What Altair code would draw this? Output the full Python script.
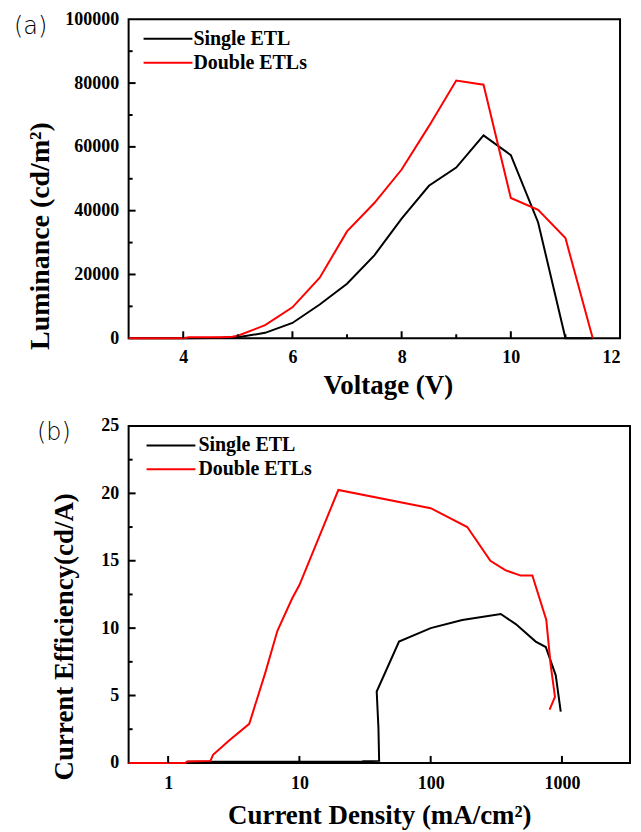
import altair as alt
import pandas as pd

# ---------------- Panel (a): Luminance vs Voltage ----------------
a_single_v = [3, 4, 4.5, 5, 5.5, 6, 6.5, 7, 7.5, 8, 8.5, 9, 9.5, 10, 10.5, 11, 11.5]
a_single_l = [0, 0, 100, 300, 1700, 4800, 10600, 17100, 26000, 37500, 47800, 53500, 63600, 57400, 36300, 0, 0]
a_double_v = [3, 4, 4.1, 4.7, 4.9, 5, 5.5, 6, 6.5, 7, 7.5, 8, 8.5, 9, 9.5, 10, 10.5, 11, 11.5]
a_double_l = [0, 0, 300, 300, 500, 800, 4100, 9700, 19000, 33500, 42400, 52900, 66500, 80800, 79500, 44000, 40300, 31400, 0]

# ---------------- Panel (b): Current efficiency vs current density ----------------
b_single_j = [1.4, 30, 30.5, 40.5, 40, 38.8, 57.4, 100, 174, 342, 445, 631, 753, 897, 979]
b_single_ce = [0.08, 0.08, 0.12, 0.15, 2.6, 5.3, 9.0, 10.0, 10.6, 11.05, 10.3, 9.0, 8.6, 6.5, 3.8]
b_double_j = [0.5, 1.35, 1.4, 2.1, 2.2, 2.9, 4.15, 5.5, 6.8, 8.8, 10, 19.8, 100, 190, 285, 370, 485, 595, 760, 820, 885, 805]
b_double_ce = [0, 0, 0.1, 0.15, 0.6, 1.65, 2.9, 6.7, 9.8, 12.2, 13.2, 20.25, 18.9, 17.5, 15.0, 14.3, 13.9, 13.9, 10.6, 7.3, 4.9, 3.95]

series_names = ["Single ETL", "Double ETLs"]
series_colors = ["#000000", "#ff0000"]

a_x_major = [4, 6, 8, 10, 12]
a_x_minor = [5, 7, 9, 11]
a_y_major = [0, 20000, 40000, 60000, 80000, 100000]
a_y_minor = [10000, 30000, 50000, 70000, 90000]

b_x_major = [1, 10, 100, 1000]
b_y_major = [0, 5, 10, 15, 20, 25]
b_y_minor = [2.5, 7.5, 12.5, 17.5, 22.5]


def frame(xs, ys, name):
    return pd.DataFrame({"x": xs, "y": ys, "series": name, "i": list(range(len(xs)))})


dfA = pd.concat([frame(a_single_v, a_single_l, series_names[0]),
                 frame(a_double_v, a_double_l, series_names[1])], ignore_index=True)
dfB = pd.concat([frame(b_single_j, b_single_ce, series_names[0]),
                 frame(b_double_j, b_double_ce, series_names[1])], ignore_index=True)

SERIF = "Liberation Serif"
LABEL = dict(labelFont=SERIF, labelFontWeight="bold", labelFontSize=18, labelColor="black")
TITLE = dict(titleFont=SERIF, titleFontWeight="bold", titleColor="black")


def color_enc(lx, ly, loff):
    return alt.Color("series:N",
                     scale=alt.Scale(domain=series_names, range=series_colors),
                     legend=alt.Legend(orient="none", legendX=lx, legendY=ly, title=None,
                                       symbolType="M-2,0H2", symbolSize=600, symbolStrokeWidth=2,
                                       labelFont=SERIF, labelFontWeight="bold", labelFontSize=20,
                                       labelColor="black", labelOffset=loff, padding=0, rowPadding=0))


def xticks(values, xscale, H, size):
    d = pd.DataFrame({"x": values})
    return alt.Chart(d).mark_rule(color="black", strokeWidth=2).encode(
        x=alt.X("x:Q", scale=xscale, axis=None), y=alt.value(H), y2=alt.value(H - size))


def yticks(values, yscale, size):
    d = pd.DataFrame({"y": values})
    return alt.Chart(d).mark_rule(color="black", strokeWidth=2).encode(
        y=alt.Y("y:Q", scale=yscale, axis=None), x=alt.value(0), x2=alt.value(size))


def panel(df, W, H, xscale, yscale, xmaj, xmin, ymaj, ymin, xtitle, ytitle, xaxis_kw, yaxis_kw,
          label, label_dx, label_dy, lx, ly, loff):
    lines = alt.Chart(df).mark_line(strokeWidth=2).encode(
        x=alt.X("x:Q", scale=xscale,
                axis=alt.Axis(values=xmaj, ticks=False, domain=False, grid=False, title=xtitle,
                              format="d", **LABEL, **TITLE, **xaxis_kw)),
        y=alt.Y("y:Q", scale=yscale,
                axis=alt.Axis(values=ymaj, ticks=False, domain=False, grid=False, title=ytitle,
                              format="d", labelPadding=10, **LABEL, **TITLE, **yaxis_kw)),
        color=color_enc(lx, ly, loff),
        order="i:Q",
    )
    layers = [lines,
              xticks([v for v in xmaj if v != xmaj[-1] or len(xmaj) == 4], xscale, H, 7),
              yticks(ymaj[1:-1], yscale, 7),
              yticks(ymin, yscale, 4)]
    if xmin:
        layers.append(xticks(xmin, xscale, H, 4))
    return alt.layer(*layers).resolve_axis(x="independent", y="independent").properties(
        width=W, height=H,
        title=alt.TitleParams(label, anchor="start", frame="bounds", font="DejaVu Sans",
                              fontWeight=200, fontSize=24, color="black", dx=label_dx, dy=label_dy,
                              offset=0),
    )


chartA = panel(dfA, 493, 320,
               alt.Scale(domain=[3, 12], nice=False, zero=False),
               alt.Scale(domain=[0, 100000], nice=False),
               a_x_major, a_x_minor, a_y_major, a_y_minor,
               "Voltage (V)", "Luminance (cd/m²)",
               dict(titleFontSize=27, titlePadding=6, titleX=260, labelPadding=10),
               dict(titleFontSize=28, titlePadding=10, titleY=217),
               "(a)", -13, 29, 26, 6, 12)

chartB = panel(dfB, 503, 338,
               alt.Scale(type="log", domain=[0.5, 3300], nice=False),
               alt.Scale(domain=[0, 25], nice=False),
               b_x_major, [], b_y_major, b_y_minor,
               "Current Density (mA/cm²)", "Current Efficiency(cd/A)",
               dict(titleFontSize=27, titlePadding=10, labelPadding=12),
               dict(titleFontSize=27, titlePadding=22, titleY=211),
               "(b)", -14, 28, 29, 6, 14)

chart = alt.vconcat(chartA, chartB, spacing=17).resolve_scale(color="independent").configure_view(
    stroke="black", strokeWidth=2
).properties(padding={"left": 5, "top": 0, "right": 2, "bottom": 2})

chart.save("out.html", embed_options={"renderer": "svg", "actions": False})
